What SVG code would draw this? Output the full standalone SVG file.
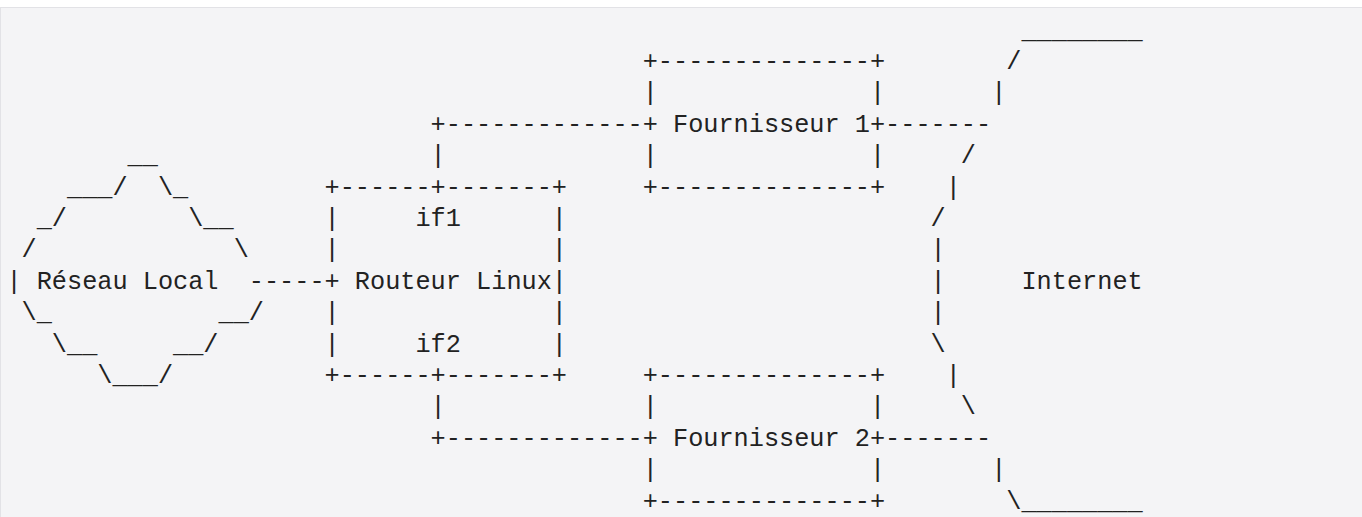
<svg xmlns="http://www.w3.org/2000/svg" width="1362" height="517" viewBox="0 0 1362 517" xml:space="preserve">
<style>
text { font-family: "Liberation Mono", "Courier New", monospace; font-size: 25.25px; fill: #222222; white-space: pre; }
</style>
<rect x="0.5" y="7.5" width="1362" height="520" fill="#f4f4f6" stroke="#e2e2e6" stroke-width="1"/>
<g id="reseau-local">
<text><tspan x="127.6" y="163.1">__</tspan><tspan x="67.0" y="194.5">___/  \_</tspan><tspan x="36.7" y="225.9">_/        \__</tspan><tspan x="21.55" y="257.3">/             \</tspan><tspan x="6.4" y="288.7">| Réseau Local</tspan><tspan x="21.55" y="320.1">\_           __/</tspan><tspan x="51.85" y="351.5">\__     __/</tspan><tspan x="97.3" y="382.9">\___/</tspan></text>
</g>
<g id="routeur-linux">
<text><tspan x="324.55" y="194.5">+------+-------+</tspan><tspan x="324.55" y="225.9">|     if1      |</tspan><tspan x="324.55" y="257.3">|              |</tspan><tspan x="324.55" y="288.7">+ Routeur Linux|</tspan><tspan x="324.55" y="320.1">|              |</tspan><tspan x="324.55" y="351.5">|     if2      |</tspan><tspan x="324.55" y="382.9">+------+-------+</tspan></text>
</g>
<g id="fournisseur-1">
<text><tspan x="642.7" y="68.9">+--------------+</tspan><tspan x="642.7" y="100.3">|              |</tspan><tspan x="642.7" y="131.7">+ Fournisseur 1+</tspan><tspan x="642.7" y="163.1">|              |</tspan><tspan x="642.7" y="194.5">+--------------+</tspan></text>
</g>
<g id="fournisseur-2">
<text><tspan x="642.7" y="382.9">+--------------+</tspan><tspan x="642.7" y="414.3">|              |</tspan><tspan x="642.7" y="445.7">+ Fournisseur 2+</tspan><tspan x="642.7" y="477.1">|              |</tspan><tspan x="642.7" y="508.5">+--------------+</tspan></text>
</g>
<g id="internet">
<text><tspan x="1021.45" y="37.5">________</tspan><tspan x="1006.3" y="68.9">/</tspan><tspan x="991.15" y="100.3">|</tspan><tspan x="960.85" y="163.1">/</tspan><tspan x="945.7" y="194.5">|</tspan><tspan x="930.55" y="225.9">/</tspan><tspan x="930.55" y="257.3">|</tspan><tspan x="930.55" y="288.7">|     Internet</tspan><tspan x="930.55" y="320.1">|</tspan><tspan x="930.55" y="351.5">\</tspan><tspan x="945.7" y="382.9">|</tspan><tspan x="960.85" y="414.3">\</tspan><tspan x="991.15" y="477.1">|</tspan><tspan x="1006.3" y="508.5">\________</tspan></text>
</g>
<g id="connectors">
<text><tspan x="248.8" y="288.7">-----</tspan><tspan x="430.6" y="131.7">+-------------</tspan><tspan x="430.6" y="163.1">|</tspan><tspan x="430.6" y="414.3">|</tspan><tspan x="430.6" y="445.7">+-------------</tspan><tspan x="885.1" y="131.7">-------</tspan><tspan x="885.1" y="445.7">-------</tspan></text>
</g>
</svg>
